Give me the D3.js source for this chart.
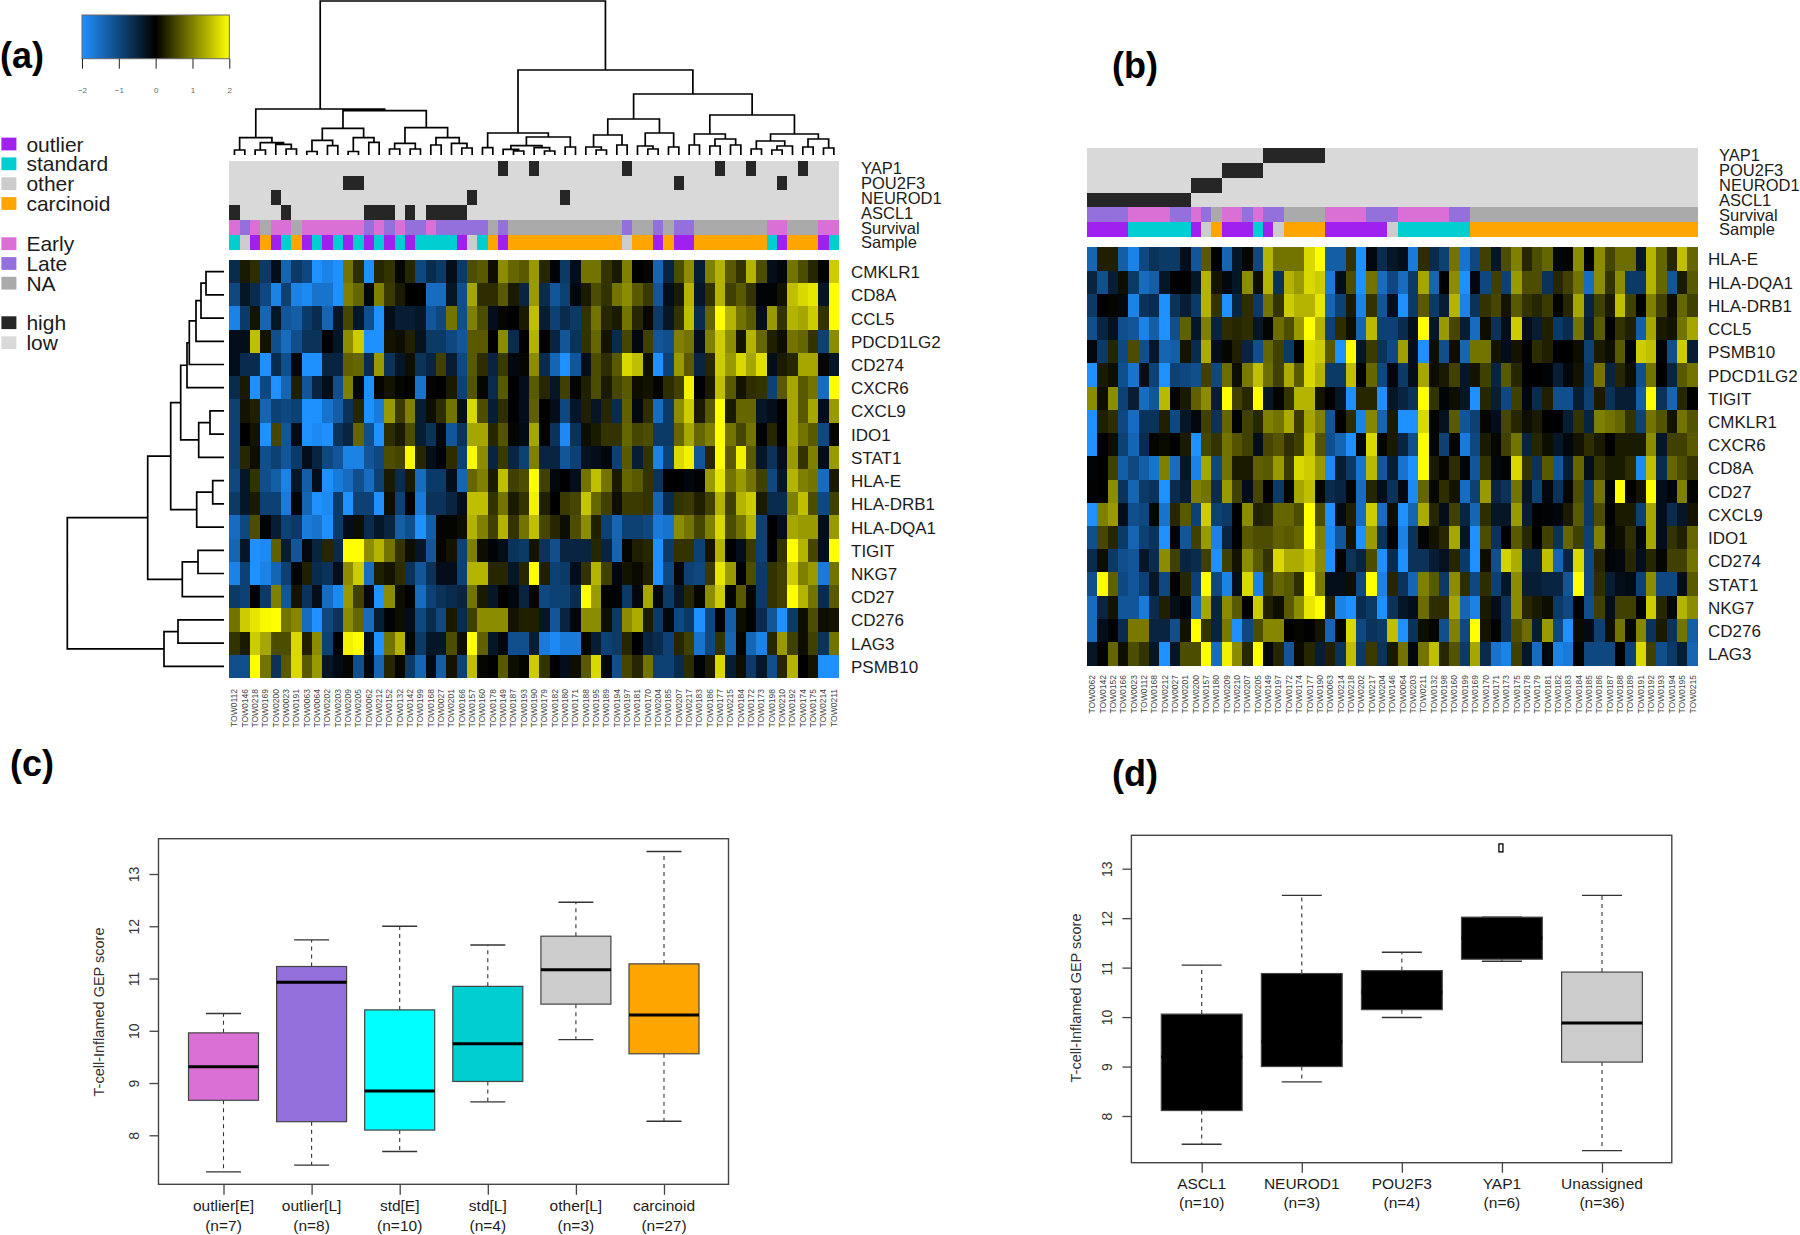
<!DOCTYPE html>
<html><head><meta charset="utf-8">
<script src="https://cdn.jsdelivr.net/npm/d3@7"></script>
<style>html,body{margin:0;padding:0;background:#fff}svg{display:block}text{font-family:"Liberation Sans",Arial,sans-serif}</style>
</head><body><svg id="c" width="1800" height="1235"></svg>
<script>
// ---------- DATA ----------
const samplesA=["TOW0112","TOW0146","TOW0218","TOW0169","TOW0200","TOW0023","TOW0191","TOW0063","TOW0064","TOW0202","TOW0203","TOW0209","TOW0205","TOW0062","TOW0212","TOW0152","TOW0132","TOW0142","TOW0199","TOW0168","TOW0027","TOW0201","TOW0166","TOW0157","TOW0160","TOW0178","TOW0149","TOW0187","TOW0193","TOW0190","TOW0179","TOW0182","TOW0180","TOW0171","TOW0188","TOW0195","TOW0189","TOW0194","TOW0197","TOW0181","TOW0170","TOW0204","TOW0185","TOW0207","TOW0217","TOW0183","TOW0186","TOW0177","TOW0215","TOW0184","TOW0172","TOW0173","TOW0198","TOW0210","TOW0192","TOW0174","TOW0175","TOW0214","TOW0211"];
const genesA=["CMKLR1","CD8A","CCL5","PDCD1LG2","CD274","CXCR6","CXCL9","IDO1","STAT1","HLA-E","HLA-DRB1","HLA-DQA1","TIGIT","NKG7","CD27","CD276","LAG3","PSMB10"];
const heatA=[
[-0.6,0.2,0.35,-0.8,-0.2,-1.4,-0.8,-1.0,-2,-1.8,-2,0.9,0.35,-2,0.3,0.4,0.05,0.3,-1.0,-0.6,-0.8,-0.2,-0.8,0.6,0.7,0.1,1.1,0.8,0.7,1.2,0.3,-0.05,-0.8,-0.2,0.9,0.9,0.4,0.2,1.0,0,0.05,-1.4,-0.5,0.6,1.1,-0.4,1.0,1.4,0.7,0.4,1.4,0.6,-0.2,-0.1,0.9,0.6,0.3,-0.05,1.6],
[-1.0,-0.3,-0.6,-1.0,-1.8,-0.9,-1.8,-1.9,-1.6,-1.6,-2,1.0,0.8,-0.1,1.0,0.45,0.2,0,0,-1.5,-1.5,-0.3,-1.1,1.3,0.35,0.35,0.7,0.2,-0.5,1.2,-0.6,-1.2,-0.9,-0.1,0.2,0.6,0.4,0.9,1.1,0.7,0.45,-1.2,-0.2,0.2,1.4,-0.3,0.4,1.4,0.5,0.7,0.4,-0.05,-0.05,0.15,1.5,1.7,1.8,-0.3,2],
[-1.8,-0.8,0.15,-1.4,-0.3,-1.2,-1.3,-0.8,-0.6,-1.4,-0.3,0.55,-0.3,-1.1,-2,-0.2,-0.4,-0.4,-0.3,-1.2,-1.0,0.9,-1.1,1.0,0.6,-0.2,0.05,0,0.2,1.5,-0.4,-0.9,-0.6,-0.8,0.4,0.9,0.3,0.2,0.9,0.3,0.05,-0.8,-0.3,0.4,1.5,-0.6,0.8,2,1.4,0.9,0.7,-0.2,1.2,0.4,1.4,1.3,1.6,0.4,2],
[-0.2,-0.2,1.5,0.15,-1.1,-1.5,-1.1,-0.7,-0.7,0,-0.3,1.1,1.6,-2,-2,0.15,0.1,0.25,-0.25,-0.8,-0.8,-1.0,-1.2,0.7,0.7,0,1.1,-0.6,0,1.4,0,-0.5,-1.2,-0.7,0.4,0.8,0.15,-0.6,0.55,-0.1,0.5,-1.2,-1.1,1.0,0.9,-0.2,1.0,1.6,1.1,0.15,1.4,0.8,0.25,0.1,0.9,0.8,0.4,-0.9,1.1],
[-0.2,-0.6,-0.6,-2,-0.6,-1.1,-0.1,-2,-2,-0.5,-0.5,0.75,0.8,-0.6,1.2,-0.7,-0.3,0.1,-0.7,-0.5,0.5,-0.4,-1.0,0.7,0.35,-0.5,0.45,-0.1,0.05,1.1,-0.6,-1.4,-2,-1.2,-0.2,0.6,0.35,0.7,1.7,1.5,0.1,-2,-0.9,1.2,0.7,-0.5,0.3,1.6,1.2,1.7,1.3,1.75,-0.2,0.2,0.3,1.3,1.3,0.05,-0.3],
[-0.6,0.2,-2,-1.0,-2,-1.4,0.25,-1.2,-0.5,-0.2,-1.1,1.0,-0.1,-2,0.05,0.15,0.05,0,-1.6,0.02,0,0.2,-0.9,0.65,0.05,-0.6,0.7,0,-0.2,0.7,0.3,-0.3,0.5,0.03,0.25,0.6,0.2,0.55,0.7,0.1,0.15,0.03,0.35,0.5,1.9,-0.02,0.2,1.5,0.7,0.15,0.35,0.4,-0.9,0.7,1.3,0.7,0.9,-1.5,2],
[-0.9,0.15,0.25,-1.4,-0.9,-1.0,-0.9,-2,-2,-1.6,-1.3,-0.7,0.3,-2,-1.7,1.2,0.45,1.0,-0.4,0.1,0.35,0.9,-0.2,1.7,0.6,-0.4,0.35,-0.02,-0.2,0.75,-0.02,-0.2,-1.0,-0.3,0.25,-0.3,0.3,-0.6,0.75,-0.1,0.35,-1.5,-0.8,1.1,1.6,0.2,0.7,2,0.2,0.8,0.8,-0.3,-0.2,0,1.3,0.7,1.3,-0.2,1.2],
[-0.9,0,0.15,-2,0.55,-1.2,-0.15,-2,-1.9,-2,-0.7,-0.5,0.8,-1.1,-2,0.35,0.2,0.6,-0.4,-0.7,-0.1,-1.2,-0.7,1.3,1.3,0.3,0.65,0.05,-0.15,1.3,0,-0.7,-1.9,-0.7,0.1,0.2,0.4,0.4,0.8,0.55,0.6,-0.8,-0.8,0.8,1.3,0.8,1.0,2,0.9,0.55,0.9,-0.05,0.3,0,1.3,0.9,0.7,-1.0,0.05],
[-0.9,0.3,0.1,-1.1,-0.9,-1.2,-0.8,-0.2,-0.5,-1.0,-1.2,-1.8,-1.8,-1.2,-1.0,0.6,0.55,1.95,0.3,-0.2,-0.05,0.35,-0.9,1.95,1.1,-0.5,0.45,-0.5,-0.9,1.0,-0.5,-0.5,-1.2,-0.9,-0.25,-0.2,-0.1,-0.9,0.7,-0.4,0.4,-1.8,-0.9,1.7,1.9,-1.2,0.3,2,0.7,1.9,0.7,-0.3,-0.7,-0.2,1.2,0.4,1.0,-0.2,1.2],
[-1.0,-0.3,0.4,-1.1,-1.3,-1.8,-0.3,-1.3,-0.2,-2,-1.7,-1.5,-1.1,-1.5,-0.9,0.2,-0.6,0.2,-1.5,-0.8,-0.8,-0.2,-1.4,0.8,1.0,0.2,1.5,0.5,0.6,2,0.5,-0.1,0,-0.2,0.9,1.5,0.9,0.2,0.8,0.7,0.4,-0.7,0,0,-0.1,-0.03,1.2,1.8,0.9,1.2,0.9,0.5,-1.0,-0.3,1.4,1.0,0.9,-1.5,0.2],
[-0.8,-0.3,0.2,-0.9,-0.9,-1.7,-0.05,-1.4,-2,-1.9,-0.8,-2,-0.9,-0.9,-2,0.1,-0.9,0,-1.7,-0.7,-0.7,-0.5,-0.2,1.5,1.5,0.4,0.9,0.2,0.4,1.9,0.25,0,0.45,0.55,1.55,0.8,0.5,0.1,0.45,0.45,0.4,-1.4,-0.6,0.4,0.45,0.25,0.5,1.4,0.5,1.4,1.6,0.2,-0.6,-0.6,1.0,1.5,0.6,-1.0,0.5],
[-1.5,-1.0,0.6,-0.05,-0.4,-0.9,-0.8,-1.7,-1.6,-2,-0.8,-0.2,0.1,-0.6,-0.3,-0.5,-1.3,-1.1,-2,-1.3,0.03,0.03,0.1,1.4,1.0,0.5,1.4,0.4,0.9,1.5,0.55,0.3,0.1,0.6,1.1,0.25,-0.9,-1.4,-0.9,-0.9,-1.0,-1.7,-1.6,1.1,0.9,0.55,1.0,1.7,0.6,0.9,1.4,-0.9,0,-0.2,1.3,1.2,1.2,-0.2,1.2],
[-1.4,-0.3,-2,-1.9,0.75,-0.4,-1.2,-0.1,-0.5,0.3,-0.6,2,2,1.1,1.4,0.9,0.4,0.1,-0.3,-1.2,0.03,0.15,-0.9,1.0,0.1,-0.05,-0.2,-0.7,-0.8,0.15,-0.7,-1.1,-0.5,-0.5,-0.5,0.3,-0.5,-1.4,0.03,0.25,0.3,-2,-0.8,0.4,0.4,-0.9,0.15,1.4,0,-0.2,0.45,-0.9,-0.02,0.4,2,1.4,0.55,-0.2,2],
[-1.8,-0.9,-2,-1.8,-1.4,-0.9,-0.05,0.25,-0.6,-0.7,-0.2,1.1,1.6,-1.5,0.25,0.15,0.35,-0.7,-1.2,-0.7,-0.2,-0.2,-0.9,1.4,1.4,0.3,0.3,-0.3,0.3,2,0.25,-0.9,-0.8,-0.2,0.4,1.4,0.5,-0.1,0.15,0.08,0.25,-2,-1.0,-0.1,-0.9,-1.0,0.45,1.8,1.2,-0.02,0.6,-0.8,0.4,0.5,1.6,1.0,1.2,-1.7,0.9],
[-0.8,-0.9,-0.03,-0.8,1.0,-1.2,0.15,-0.7,-0.2,-1.5,-1.9,1.2,0.5,-0.1,-2,1.1,0.1,-0.02,-1.5,-0.9,-0.7,-0.6,-0.5,0.9,0.2,-0.3,0,-0.1,-0.5,0.05,-1.0,-0.9,-0.9,-0.6,2,1.2,-0.03,-0.05,-0.8,-0.1,1.3,-0.1,-0.8,-0.3,0.3,0.05,1.1,1.6,0.03,0.7,0.05,-0.8,0.4,0.5,2,1.4,0.9,-0.6,0.7],
[0.9,1.6,1.8,1.95,2,0.9,1.05,-1.5,-2,-1.0,-0.7,1.1,0.8,-1.5,-0.4,-0.05,0.1,-0.2,-1.0,-0.6,-1.0,0.2,-0.6,0.5,1.1,1.1,1.1,0.15,0.25,0.25,-0.3,-1.2,-0.5,-0.1,1.1,1.1,0.1,-0.8,1.1,1.35,0.2,-0.8,-0.1,-1.0,-0.8,-2,-1.0,-0.02,-1.3,0.1,-0.02,-0.6,-1.2,-2,-0.8,0.1,0.6,0.1,0.15],
[0.4,0.2,1.6,1.3,0.6,0.6,1.7,0.25,1.1,-0.9,0,1.9,2,-0.2,-2,0.9,1.4,0.05,-0.8,-0.3,-0.3,0.6,0.1,2,0.75,-0.3,-0.1,-1.1,-1.1,-0.4,-1.7,-1.9,-1.7,-1.7,0.03,-0.4,-0.9,-0.8,0.3,0,-0.5,-0.6,-0.9,0.3,0.5,-1.6,-1.0,0.4,-1.4,0.02,-1.4,-1.8,0.3,1.2,0.5,0.1,0.5,-0.7,0.9],
[-1.1,-1.1,2,0.9,-0.7,0.7,1.7,0.7,1.2,-0.3,-0.15,0.05,-1.1,-0.1,-1.4,0.3,0.05,-0.8,-1.4,-0.15,-1.3,0.15,-0.9,1.5,0.05,-0.02,0.7,0.1,0.02,1.6,0.4,0,-0.2,0.1,0.7,1.7,-0.1,-1.1,0.55,0.3,0.9,-0.9,-0.9,-0.6,0.35,-0.05,0.2,1.7,-0.4,0.1,-0.8,-0.3,-1.1,0.3,1.4,0,0.15,-2,-2]
];
const samplesB=["TOW0062","TOW0142","TOW0152","TOW0166","TOW0023","TOW0112","TOW0168","TOW0212","TOW0027","TOW0201","TOW0200","TOW0157","TOW0180","TOW0209","TOW0210","TOW0207","TOW0205","TOW0149","TOW0197","TOW0172","TOW0174","TOW0177","TOW0190","TOW0063","TOW0214","TOW0218","TOW0202","TOW0217","TOW0204","TOW0146","TOW0064","TOW0203","TOW0211","TOW0132","TOW0198","TOW0160","TOW0199","TOW0169","TOW0170","TOW0171","TOW0173","TOW0175","TOW0178","TOW0179","TOW0181","TOW0182","TOW0183","TOW0184","TOW0185","TOW0186","TOW0187","TOW0188","TOW0189","TOW0191","TOW0192","TOW0193","TOW0194","TOW0195","TOW0215"];
const genesB=["HLA-E","HLA-DQA1","HLA-DRB1","CCL5","PSMB10","PDCD1LG2","TIGIT","CMKLR1","CXCR6","CD8A","CD27","CXCL9","IDO1","CD274","STAT1","NKG7","CD276","LAG3"];
const heatB=[
[-1.4,0.25,0.25,-1.3,-1.8,-1.0,-0.7,-0.8,-0.8,-0.2,-1.2,0.7,0,-1.4,-0.3,0.05,-1.0,1.4,0.9,0.9,0.9,1.7,2,-1.3,-1.3,0.4,-2,-0.1,-0.6,-0.3,-0.2,-1.7,0.35,-0.6,-0.9,0.9,-1.6,-1.0,0.5,-0.3,0.6,1.0,0.3,0.6,0.8,-0.1,0.03,1.1,0,1.1,0.55,0.85,0.85,-0.3,1.4,0.8,0.3,1.5,0.8],
[-0.5,-1.1,-0.4,0.1,-0.8,-1.5,-1.3,-0.3,0,0,-0.3,1.4,0.15,-0.1,-0.3,1.1,0.1,1.4,-0.7,1.4,1.2,1.7,1.6,-1.7,-0.2,0.6,-2,0.9,-1.5,-1.0,-1.5,-0.8,1.3,-1.4,0,1.1,-2,-0.1,-1.0,0.5,-0.9,1.2,0.6,0.6,-0.7,0.3,0.5,0.9,-1.5,1.1,0.4,1.1,-0.8,-0.8,1.4,0.8,-1.2,0.2,0.7],
[-0.8,0,0.05,-0.1,-1.8,-0.7,-0.6,-2,-0.7,-0.4,-0.8,1.4,0.4,-2,-0.5,0.35,-0.8,0.9,0.4,1.6,1.4,1.4,1.8,-1.4,-0.9,0.2,-1.8,0.4,-1.2,-0.2,-2,-0.8,0.7,-0.8,-0.4,1.4,-1.8,-0.7,0.4,0.55,0.15,0.7,0.4,0.3,0.45,0.02,0.3,1.3,-0.5,0.5,0.2,1.5,0.5,-0.02,1.0,0.5,0.1,0.8,0.5],
[-1.1,-0.5,-0.25,-1.1,-1.2,-1.8,-1.3,-2,-1.1,0.75,-0.3,1.0,-0.5,0.35,0.3,0.35,-0.3,0.03,0.85,0.6,1.2,2,1.4,-0.9,0.35,0.1,-1.4,1.45,-0.9,-0.9,-0.6,-0.2,2,-0.3,1.2,0.55,-0.4,-1.5,0.1,-0.7,-0.2,1.6,-0.2,-0.4,0.25,-0.8,-0.6,0.9,-0.4,0.7,0,0.4,0.25,-1.3,1.3,0.2,0.15,0.9,1.3],
[-0.1,-0.8,0.3,-1.0,0.6,-1.1,-0.3,-1.4,-1.3,0.15,-0.6,1.35,-0.2,0.05,0.25,-0.5,-1.1,0.8,0.5,-0.8,0,1.7,1.6,0.7,-2,2,-0.3,0.45,-0.7,-1.0,1.25,-0.2,-2,0.1,-1.1,0.1,-1.4,0.9,0.9,0.15,-0.2,0.15,-0.02,0.35,0.25,0,0,0.1,-0.9,0.2,0.1,0.7,-0.05,1.6,1.5,-0.05,-1.1,1.6,-0.4],
[-2,0.2,0.1,-1.1,-1.6,-0.2,-0.9,-2,-0.9,-1.0,-1.1,0.5,-1.0,0.85,0.1,0.95,1.5,0.85,0.5,1.35,0.7,1.7,1.4,-0.8,-0.8,1.5,-0.02,0.8,-1.0,-0.1,-0.8,-0.2,1.3,0.1,0.2,0.5,-0.3,0.15,0.5,-0.5,0.7,0.3,0,0,-0.05,-0.4,-0.1,0.15,-0.8,0.9,-0.5,0.3,0.1,-1.1,0.9,0,-0.5,0.7,0.9],
[1.1,0.1,1.1,-0.9,-0.4,-1.5,-1.2,1.45,0.03,0.2,0.75,1.1,-0.4,2,0.5,0.3,2,-0.3,0.03,0.4,1.4,1.4,0.15,0,-0.3,-2,0.3,0.3,-2,-0.3,-0.5,-0.7,2,0.4,-0.05,0.1,-0.3,-2,0.3,-0.4,-1.0,0.5,-0.1,-0.6,0.25,-1.1,-1.1,-0.4,-0.9,0.2,-0.7,-0.4,-0.4,-1.3,2,-0.7,-1.4,0.3,0],
[-2,0.25,0.35,-1.0,-1.5,-0.7,-0.7,0.25,-1.0,-0.3,-0.1,0.5,-0.7,0.8,-0.02,0.5,0.3,1.0,0.9,1.35,0.45,1.3,1.0,-1.2,0,0.35,-1.8,1.05,-1.4,0.2,-2,-2,1.7,0.03,-0.25,0.7,-1.2,-0.9,0.05,-0.2,0.55,0.3,0.1,0.2,0,-0.02,-0.4,0.4,-0.5,1.0,0.9,0.8,0.4,-0.9,0.9,0.65,0.15,0.9,0.65],
[-2,0,0.1,-0.9,-1.4,-0.6,0.03,0.08,-0.02,0.2,-2,0.55,0.4,0.9,0.65,0.5,-0.2,0.55,0.65,0.35,0.5,1.5,0.65,-1.1,-1.4,-2,-0.1,1.7,0.03,0.2,-0.5,-1.1,2,0.03,-0.9,0.05,-1.7,-1.0,0.2,0.05,0.5,0.9,-0.5,0.3,0.1,-0.3,-0.1,0.15,0.35,0.2,0,0.2,0.2,0.2,1.1,-0.3,0.5,0.5,0.7],
[-0.05,0,0.5,-1.3,-1.0,-1.3,-1.6,1.0,-1.5,-0.3,-1.8,1.3,-1.0,0.9,0.2,0.2,0.75,0.7,1.2,0.45,1.7,1.6,1.2,-1.9,-0.4,-0.8,-1.6,1.45,-1.2,-0.4,-1.6,-2,2,0.2,0.05,0.35,-0.05,-1.2,0.4,-0.1,-0.05,1.7,0.4,-0.7,0.7,-1.2,-0.4,0.8,-0.2,0.4,0.2,0.2,0.35,-1.9,1.5,-0.6,0.8,0.6,0.4],
[-0.03,0,1.1,-0.7,-1.4,-0.8,-0.7,-2,-0.6,-0.4,1.0,0.9,-0.6,1.2,0.5,-0.2,0.55,0,-0.8,0.05,1.3,1.5,0.05,-0.6,-0.5,-0.05,-1.5,0.3,-0.2,-0.7,-0.1,-1.9,0.8,0.05,0.35,0.15,-1.5,-0.9,1.2,-0.5,-0.7,0.9,-0.3,-0.9,-0.1,-0.7,0.05,0.6,-0.8,0.9,-0.03,2,0,0.15,2,-0.2,-0.1,1.0,0.02],
[-2,1.0,1.2,-0.2,-1.1,-1.0,0.05,-1.6,0.3,0.7,-0.9,1.6,-0.9,-0.8,0,1.1,0.25,0.3,0.8,0.8,0.6,2,0.6,-2,-0.15,0.25,-1.5,1.6,-1.5,0.1,-2,-1.4,1.35,0.3,-0.2,0.5,-0.5,-1.4,0.35,-0.3,-0.3,1.2,-0.4,-0.02,-0.05,-0.1,0.2,0.7,-0.8,0.6,0,0.2,0.2,-0.9,1.3,-0.2,-0.6,-0.3,0.15],
[-1.1,0.55,0.3,-0.8,-1.4,-0.9,-0.7,-2,-0.05,-1.2,0.5,1.2,-1.8,-0.5,0,0.7,0.6,0.6,0.75,0.7,0.8,2,1.0,-1.9,-1.2,0.15,-2,1.2,-0.7,0,-1.8,-0.7,0.02,0.15,0.3,1.3,-0.3,-2,0.6,-0.7,-0.02,0.7,0.3,0,0.5,-0.7,0.8,0.5,-0.9,1.0,0.05,0.1,0.35,-0.1,1.3,-0.2,0.4,0.25,0.8],
[-0.6,0.1,-0.8,-1.1,-1.2,-0.3,-0.6,1.1,0.5,-0.5,-0.6,0.5,-2,0.5,0.15,1.1,0.7,0.4,1.7,1.35,1.35,1.6,1.1,-2,0.03,-0.7,-0.5,0.6,-2,-0.6,-2,-0.7,-0.7,-0.4,-0.25,0.3,-0.8,-2,0.1,-1.1,1.65,1.35,-0.5,-0.5,1.5,-1.4,-0.5,1.7,-1.0,0.3,-0.05,-0.1,0.3,-0.2,0.3,0.05,0.5,0.5,0.9],
[-1.1,2,0.75,-1.0,-1.2,-0.9,-0.3,-1.0,0,0.3,-0.9,2,-1.0,-1.8,-0.2,1.7,-1.8,0.5,0.8,0.7,0.35,2,0.95,-0.2,-0.2,0.1,-1.0,2,-1.8,0.3,-0.7,-1.4,1.0,0.7,-0.8,1.1,0.35,-1.0,0.35,-0.9,-0.3,1.1,-0.4,-0.4,-0.5,-0.5,-1.2,2,-1.0,0.35,-0.4,-0.2,-0.15,-0.9,1.1,-1.0,-1.0,-0.2,0.7],
[-1.5,-0.5,0.15,-1.2,-1.2,-1.7,-0.6,0.25,-0.2,-0.05,-1.4,1.3,-0.5,1.1,0.7,-0.02,1.6,0.25,0.1,0.7,1.1,1.8,2,0.25,-1.8,-2,-0.6,-0.8,-2,-0.7,-0.3,-0.2,0.85,0.35,0.35,1.3,-1.4,-1.8,0.2,-0.2,-0.7,1.1,0.3,0.2,0.1,-0.8,-1.0,-0.02,-1.1,0.5,-0.2,0.5,0.5,-0.03,1.6,0.3,-0.1,1.4,1.1],
[-1.5,-0.2,-0.02,-0.6,0.95,0.95,-0.5,-0.5,-1.1,0.15,2,0.4,-0.5,0.95,-2,-1.0,0.6,1.05,1.05,0,0.05,-0.02,0.15,-1.4,0.05,1.7,-1.0,-0.7,-0.8,1.5,-2,-0.7,0.1,0.05,-1.1,1.0,-1.0,2,0.15,-0.05,-0.7,0.6,0.85,-0.4,1.2,-1.0,-2,0.08,-0.15,-0.9,0.1,0.9,0.05,1.05,-0.7,0.2,-0.7,0.9,-1.3],
[-0.3,0.03,0.8,0.12,0.6,0.4,-0.3,-2,-0.3,0.6,0.6,2,-1.5,1.9,1.1,0.3,2,-0.1,0.3,-1.2,0.08,0.3,-0.4,0.25,-0.7,1.5,-0.8,0.45,-0.7,0.2,0.9,-0.1,0.9,1.5,0.3,0.65,-0.8,1.3,-0.6,-1.6,-1.8,0.5,-0.3,-1.5,-0.1,-1.8,-1.7,-0.02,-1.0,-1.0,-1.0,0,-0.9,1.7,0.5,-1.1,-0.8,-0.4,-1.4]
];
// annotation tracks: indices of "high" samples, survival + sample classes per column
const annotNames=["YAP1","POU2F3","NEUROD1","ASCL1","Survival","Sample"];
const highA={YAP1:[26,29,38,47,50,55],POU2F3:[11,12,43,53],NEUROD1:[4,23,32],ASCL1:[0,5,13,14,15,17,19,20,21,22]};
const survivalA="E L E N E E N E E E E E E L E L E L L E L L L L L N L N N N N N N N N N N N L N N L N L L N N N N N N N E E N N N E E".split(" ");
const sampleA="S T O C O S C O S O S O S O S O S O S S S S O T S C O C C C C C C C C C C C T C C O C O O C C C C C C C S O C C C O S".split(" ");
const highB={YAP1:[17,18,19,20,21,22],POU2F3:[13,14,15,16],NEUROD1:[10,11,12],ASCL1:[0,1,2,3,4,5,6,7,8,9]};
const survivalB="L L L L E E E E L L E L N E E L E L L N N N N E E E E L L L E E E E E L L N N N N N N N N N N N N N N N N N N N N N N".split(" ");
const sampleB="O O O O S S S S S S O T C O O O S O T C C C C O O O O O O T S S S S S S S C C C C C C C C C C C C C C C C C C C C C C".split(" ");
const sampleColors={O:"#A020F0",S:"#00CED1",T:"#CCCCCC",C:"#FFA500"};
const survColors={E:"#DA70D6",L:"#9370DB",N:"#AAAAAA"};
const legendGroups=[
 [["outlier","#A020F0"],["standard","#00CED1"],["other","#CCCCCC"],["carcinoid","#FFA500"]],
 [["Early","#DA70D6"],["Late","#9370DB"],["NA","#AAAAAA"]],
 [["high","#262626"],["low","#D9D9D9"]]];
// dendrograms: merge height, then the two branches; plain numbers are leaf positions
const n=(h,a,b)=>({h,c:[a,b]});
const treeTop=n(154,
 n(46,
  n(17.3,n(5,0,1),n(12.3,n(5,2,3),n(10.7,4,n(6,5,6)))),
  n(44.3,
   n(26.7,n(14.7,n(3.5,7,8),n(9.3,9,10)),n(17.3,n(3.5,11,12),n(12.7,13,14))),
   n(27.3,n(11.7,n(6,15,16),n(6,17,18)),n(17.3,n(10,19,20),n(11.7,21,n(7,22,23)))))),
 n(85,
  n(22,n(7.3,24,25),n(18,n(9.3,n(5.7,26,n(4,27,28)),n(7.3,29,n(4,30,31))),n(8,32,33))),
  n(61,
   n(36,n(20,n(8,34,n(5,35,36)),n(10,37,38)),n(22,n(9,39,n(6,40,41)),n(8,42,43))),
   n(40,
    n(21,n(10,44,45),n(16,n(9,46,47),n(10,48,49))),
    n(21,n(14,n(6,50,51),n(9,n(5,52,53),54)),n(16,n(8,55,56),n(7,57,58)))))));
const treeLeft=n(156.7,
 n(76.3,
  n(53.3,
   n(43.3,
    n(37,n(34.7,n(28,n(23,n(18,0,1),2),3),4),5),
    n(25.3,n(14,6,7),8)),
   n(27.3,n(11.3,9,10),11)),
  n(41.7,n(26,12,13),14)),
 n(60,n(46,15,16),17));
const colorbarTicks=[-2,-1,0,1,2];
// box plots
const boxC_names=["outlier[E]","outlier[L]","std[E]","std[L]","other[L]","carcinoid"];
const boxC_n=["(n=7)","(n=8)","(n=10)","(n=4)","(n=3)","(n=27)"];
const boxC_low=[7.30,7.43,7.69,8.64,9.83,8.27];
const boxC_q1=[8.67,8.26,8.10,9.03,10.51,9.56];
const boxC_med=[9.31,10.93,8.85,9.75,11.17,10.30];
const boxC_q3=[9.96,11.23,10.40,10.85,11.81,11.28];
const boxC_high=[10.33,11.74,12.0,11.64,12.46,13.43];
const boxC_fill=["#DA70D6","#9370DB","#00FFFF","#00CED1","#CCCCCC","#FFA500"];
const boxD_names=["ASCL1","NEUROD1","POU2F3","YAP1","Unassigned"];
const boxD_n=["(n=10)","(n=3)","(n=4)","(n=6)","(n=36)"];
const boxD_low=[7.43,8.69,9.99,11.13,7.30];
const boxD_q1=[8.11,9.0,10.15,11.17,9.09];
const boxD_med=[9.2,9.5,10.5,11.6,9.88];
const boxD_q3=[10.06,10.88,10.94,12.02,10.91];
const boxD_high=[11.05,12.46,11.31,12.02,12.46];
const boxD_fill=["#000","#000","#000","#000","#CCCCCC"];
const boxD_outlier=[null,null,null,13.42,null];
const yTicks=[8,9,10,11,12,13];

// ---------- DRAW ----------
const svg=d3.select("#c");
const heatColor=d3.scaleLinear().domain([-2,0,2]).range(["#1E90FF","#000000","#FFFF00"]).clamp(true);
const TXT="#1c1c1c";

function drawTree(tree,leafPos,hScale,horizontal){
 const root=d3.hierarchy(tree,d=>typeof d==="number"?null:d.c);
 root.eachAfter(d=>{
  d.p=d.children?d3.mean(d.children,c=>c.p):leafPos(d.data);
  d.v=d.children?d.data.h:0;
 });
 const path=d3.path();
 root.each(d=>{ if(!d.children)return;
  const [a,b]=d.children, v=hScale(d.v);
  const pt=(p,q)=>horizontal?[p,q]:[q,p];
  path.moveTo(...pt(a.p,hScale(a.v)));path.lineTo(...pt(a.p,v));
  path.lineTo(...pt(b.p,v));path.lineTo(...pt(b.p,hScale(b.v)));
 });
 svg.append("path").attr("d",path.toString()).attr("fill","none").attr("stroke","#000").attr("stroke-width",1.7);
}

function drawHeat(o){
 const x=d3.scaleBand().domain(d3.range(59)).range([o.x0,o.x1]);
 const y=d3.scaleBand().domain(d3.range(18)).range([o.y0,o.y1]);
 const g=svg.append("g").attr("shape-rendering","crispEdges");
 o.data.forEach((row,r)=>g.selectAll(null).data(row).join("rect")
   .attr("x",(d,i)=>x(i)).attr("y",y(r)).attr("width",x.bandwidth()+.4).attr("height",y.bandwidth()+.4)
   .attr("fill",d=>heatColor(d)));
 svg.append("g").selectAll("text").data(o.genes).join("text")
   .attr("x",o.geneX).attr("y",(d,i)=>y(i)+y.bandwidth()/2+2).attr("dominant-baseline","middle")
   .attr("font-size",17).attr("fill",TXT).text(d=>d);
 svg.append("g").selectAll("text").data(o.samples).join("text")
   .attr("text-anchor","end").attr("font-size",8.5).attr("fill","#444")
   .attr("transform",(d,i)=>`translate(${x(i)+x.bandwidth()/2+3},${o.sampleY}) rotate(-90)`).text(d=>d);
 // annotation tracks
 const ya=d3.scaleBand().domain(annotNames).range([o.ya0,o.ya1]);
 const ga=svg.append("g").attr("shape-rendering","crispEdges");
 annotNames.forEach(nm=>{
  const colors=nm==="Survival"?o.survival.map(k=>survColors[k])
   :nm==="Sample"?o.sample.map(k=>sampleColors[k])
   :d3.range(59).map(i=>o.high[nm].includes(i)?"#262626":"#D9D9D9");
  ga.selectAll(null).data(colors).join("rect").attr("x",(d,i)=>x(i)).attr("y",ya(nm))
    .attr("width",x.bandwidth()+.4).attr("height",ya.bandwidth()+.3).attr("fill",d=>d);
 });
 svg.append("g").selectAll("text").data(annotNames).join("text")
   .attr("x",o.annotX).attr("y",d=>ya(d)+ya.bandwidth()/2+1.5).attr("dominant-baseline","middle")
   .attr("font-size",16.5).attr("fill",TXT).text(d=>d);
 return {x,y};
}

const A=drawHeat({x0:229.3,x1:839,y0:260,y1:678,ya0:160.7,ya1:250,data:heatA,genes:genesA,samples:samplesA,
 geneX:851,annotX:861,sampleY:689,high:highA,survival:survivalA,sample:sampleA});
drawHeat({x0:1087,x1:1697.7,y0:247.3,y1:665.3,ya0:148,ya1:237,data:heatB,genes:genesB,samples:samplesB,
 geneX:1708,annotX:1719,sampleY:675,high:highB,survival:survivalB,sample:sampleB});

drawTree(treeTop,i=>A.x(i)+A.x.bandwidth()/2,d3.scaleLinear().domain([0,154]).range([155,1]),true);
drawTree(treeLeft,i=>A.y(i)+A.y.bandwidth()/2,d3.scaleLinear().domain([0,156.7]).range([224,67.3]),false);

// colour key
const defs=svg.append("defs");
const keyX=d3.scaleLinear().domain([-2,2]).range([82,229.3]);
const lg=defs.append("linearGradient").attr("id","key");
d3.range(-2,2.01,0.5).forEach(v=>lg.append("stop").attr("offset",(v+2)/4).attr("stop-color",heatColor(v)));
svg.append("rect").attr("x",82).attr("y",15).attr("width",147.3).attr("height",43.7).attr("fill","url(#key)").attr("stroke","#666").attr("stroke-width",1);
const keyAxis=svg.append("g").attr("transform","translate(0,58.7)")
  .call(d3.axisBottom(keyX).tickValues(colorbarTicks).tickSize(10).tickPadding(19).tickFormat(d3.format("d")));
keyAxis.select(".domain").remove();
keyAxis.selectAll("line").attr("stroke","#222").attr("stroke-width",1);
keyAxis.selectAll("text").attr("font-size",8).attr("fill","#666").style("font-family",'"Liberation Sans"');

// legend
const legendY=[[144,163.8,183.7,203.5],[243.7,263.5,283.2],[322.7,342.7]];
legendGroups.forEach((grp,gi)=>{
 const g=svg.append("g");
 g.selectAll("rect").data(grp).join("rect").attr("x",1.4).attr("y",(d,i)=>legendY[gi][i]-6.4).attr("width",15).attr("height",12.8).attr("fill",d=>d[1]);
 g.selectAll("text").data(grp).join("text").attr("x",26.4).attr("y",(d,i)=>legendY[gi][i]+2).attr("dominant-baseline","middle")
  .attr("font-size",21).attr("fill",TXT).text(d=>d[0]);
});

// panel letters
const panels=[["(a)",0,68],["(b)",1112,78],["(c)",10,776],["(d)",1112,786]];
svg.append("g").selectAll("text").data(panels).join("text").attr("x",d=>d[1]).attr("y",d=>d[2])
 .attr("font-size",36).attr("font-weight","bold").attr("fill","#000").text(d=>d[0]);

function drawBox(o){
 const y=d3.scaleLinear().domain([8,13]).range([o.y8,o.y13]);
 const x=d3.scalePoint().domain(o.names).range([o.c0,o.c1]);
 const g=svg.append("g");
 o.names.forEach((nm,i)=>{
  const c=x(nm);
  const stem=(a,b)=>g.append("line").attr("x1",c).attr("x2",c).attr("y1",y(a)).attr("y2",y(b)).attr("stroke","#333").attr("stroke-width",1.1).attr("stroke-dasharray","4 4");
  const cap=v=>g.append("line").attr("x1",c-o.cap).attr("x2",c+o.cap).attr("y1",y(v)).attr("y2",y(v)).attr("stroke","#333").attr("stroke-width",1.4);
  if(o.high[i]>o.q3[i])stem(o.q3[i],o.high[i]);
  stem(o.q1[i],o.low[i]);
  cap(o.high[i]);cap(o.low[i]);
  g.append("rect").attr("x",c-o.half).attr("width",2*o.half).attr("y",y(o.q3[i])).attr("height",y(o.q1[i])-y(o.q3[i]))
    .attr("fill",o.fill[i]).attr("stroke","#444").attr("stroke-width",1.2);
  g.append("line").attr("x1",c-o.half).attr("x2",c+o.half).attr("y1",y(o.med[i])).attr("y2",y(o.med[i])).attr("stroke","#000").attr("stroke-width",3);
  if(o.outlier&&o.outlier[i]!=null)
    g.append("rect").attr("x",c-3).attr("width",4).attr("y",y(o.outlier[i])-4).attr("height",8).attr("fill","#fff").attr("stroke","#000").attr("stroke-width",1.3);
 });
 svg.append("rect").attr("x",o.bx0).attr("y",o.by0).attr("width",o.bx1-o.bx0).attr("height",o.by1-o.by0).attr("fill","none").attr("stroke","#444").attr("stroke-width",1.4);
 const ay=svg.append("g").attr("transform",`translate(${o.bx0},0)`).call(d3.axisLeft(y).tickValues(yTicks).tickSize(9).tickFormat(d3.format("d")));
 ay.select(".domain").remove();
 ay.selectAll("line").attr("stroke","#444").attr("stroke-width",1.3);
 ay.selectAll("text").attr("x",0).attr("dy",null).attr("text-anchor","middle").attr("dominant-baseline","middle")
   .attr("transform","translate(-23.5,0) rotate(-90)").attr("font-size",14).attr("fill","#333").style("font-family",'"Liberation Sans"');
 const ax=svg.append("g").attr("transform",`translate(0,${o.by1})`).call(d3.axisBottom(x).tickSize(o.tick).tickFormat(""));
 ax.select(".domain").remove();
 ax.selectAll("line").attr("stroke","#444").attr("stroke-width",1.3);
 svg.append("g").selectAll("text").data(o.names).join("text").attr("x",d=>x(d)).attr("y",o.l1).attr("text-anchor","middle").attr("dominant-baseline","middle")
   .attr("font-size",15.5).attr("fill",TXT).text(d=>d);
 svg.append("g").selectAll("text").data(o.ns).join("text").attr("x",(d,i)=>x(o.names[i])).attr("y",o.l2).attr("text-anchor","middle").attr("dominant-baseline","middle")
   .attr("font-size",15.5).attr("fill",TXT).text(d=>d);
 svg.append("text").attr("text-anchor","middle").attr("dominant-baseline","middle").attr("font-size",14.5).attr("fill","#333")
   .attr("transform",`translate(${o.tx},${o.ty}) rotate(-90)`).text("T-cell-Inflamed GEP score");
}
drawBox({names:boxC_names,ns:boxC_n,low:boxC_low,q1:boxC_q1,med:boxC_med,q3:boxC_q3,high:boxC_high,fill:boxC_fill,
 y8:1135.3,y13:874,c0:223.5,c1:664,half:35,cap:17.5,bx0:158.5,bx1:728.5,by0:838.7,by1:1184.3,tick:10.5,l1:1207,l2:1227,tx:100,ty:1012});
drawBox({names:boxD_names,ns:boxD_n,low:boxD_low,q1:boxD_q1,med:boxD_med,q3:boxD_q3,high:boxD_high,fill:boxD_fill,outlier:boxD_outlier,
 y8:1116,y13:868.7,c0:1201.7,c1:1602,half:40.4,cap:20,bx0:1131.4,bx1:1671.8,by0:835.3,by1:1162.7,tick:10,l1:1185,l2:1204,tx:1077,ty:998});
</script></body></html>
